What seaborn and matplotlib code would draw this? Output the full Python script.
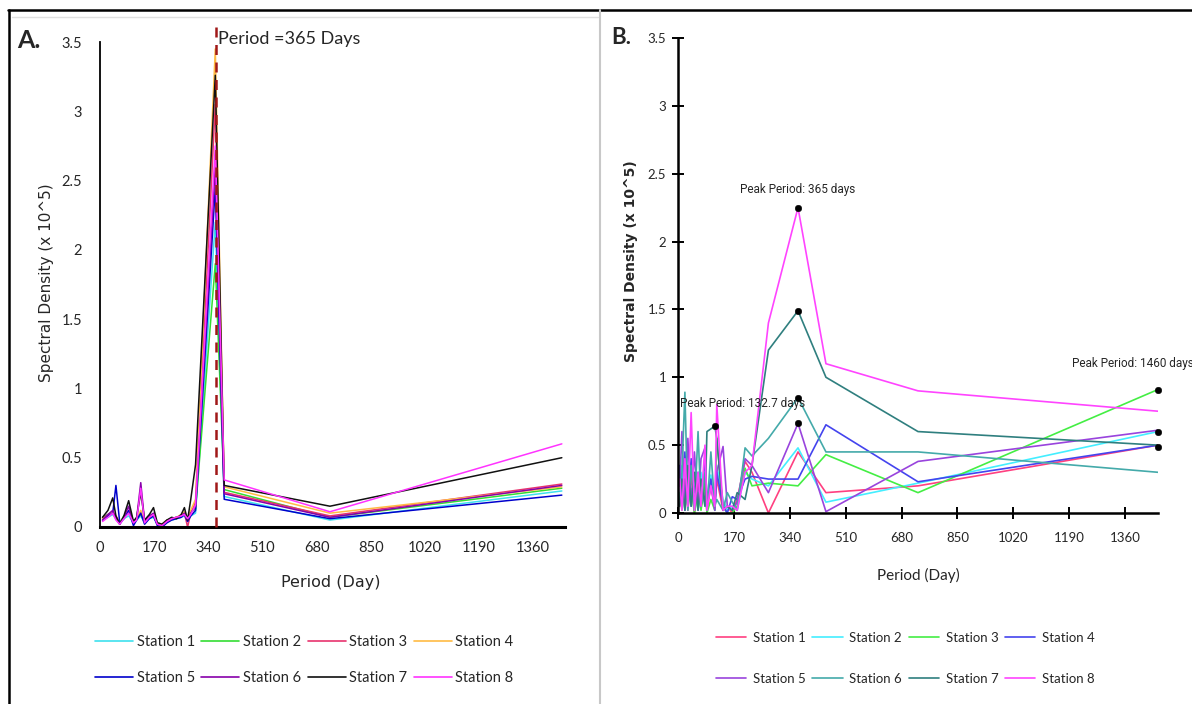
import matplotlib.pyplot as plt
import pandas as pd
import seaborn as sns
from matplotlib.lines import Line2D

stations = ['Station 1', 'Station 2', 'Station 3', 'Station 4',
            'Station 5', 'Station 6', 'Station 7', 'Station 8']

# ---- panel A data (period in days, spectral density x 10^5)
periods_a = [8, 25, 40, 50, 62, 75, 90, 105, 115, 128, 140, 155, 168, 180, 195,
             210, 225, 240, 255, 265, 275, 285, 300, 362, 390, 722, 1450]
a_st1 = [0.05, 0.07, 0.09, 0.06, 0.02, 0.06, 0.08, 0.03, 0.05, 0.08, 0.03, 0.06, 0.07, 0.02,
         0.01, 0.04, 0.05, 0.06, 0.07, 0.08, 0.04, 0.08, 0.10, 2.20, 0.22, 0.05, 0.26]
a_st2 = [0.07, 0.09, 0.11, 0.07, 0.03, 0.08, 0.10, 0.04, 0.06, 0.09, 0.05, 0.07, 0.08, 0.03,
         0.02, 0.05, 0.06, 0.07, 0.08, 0.10, 0.06, 0.11, 0.13, 1.90, 0.27, 0.07, 0.28]
a_st3 = [0.06, 0.09, 0.10, 0.08, 0.03, 0.07, 0.11, 0.03, 0.06, 0.10, 0.04, 0.08, 0.08, 0.02,
         0.02, 0.05, 0.06, 0.07, 0.08, 0.10, 0.00, 0.10, 0.18, 3.05, 0.25, 0.08, 0.31]
a_st4 = [0.06, 0.08, 0.11, 0.07, 0.03, 0.07, 0.12, 0.04, 0.06, 0.12, 0.04, 0.07, 0.09, 0.02,
         0.02, 0.04, 0.06, 0.07, 0.09, 0.11, 0.06, 0.12, 0.20, 3.45, 0.29, 0.10, 0.29]
a_st5 = [0.05, 0.08, 0.10, 0.30, 0.03, 0.06, 0.12, 0.01, 0.05, 0.10, 0.02, 0.06, 0.08, 0.01,
         0.00, 0.03, 0.05, 0.06, 0.07, 0.09, 0.04, 0.08, 0.12, 2.45, 0.20, 0.06, 0.23]
a_st6 = [0.05, 0.09, 0.12, 0.06, 0.02, 0.07, 0.15, 0.03, 0.06, 0.32, 0.04, 0.08, 0.10, 0.02,
         0.01, 0.04, 0.06, 0.07, 0.08, 0.10, 0.05, 0.10, 0.15, 2.60, 0.24, 0.07, 0.30]
a_st7 = [0.07, 0.12, 0.21, 0.08, 0.02, 0.08, 0.19, 0.04, 0.07, 0.25, 0.05, 0.09, 0.14, 0.03,
         0.02, 0.05, 0.07, 0.06, 0.09, 0.14, 0.05, 0.20, 0.45, 3.26, 0.30, 0.15, 0.50]
a_st8 = [0.04, 0.07, 0.10, 0.05, 0.02, 0.06, 0.10, 0.03, 0.05, 0.28, 0.03, 0.07, 0.09, 0.02,
         0.01, 0.04, 0.06, 0.07, 0.08, 0.09, 0.06, 0.09, 0.16, 2.75, 0.34, 0.11, 0.60]

# ---- panel B data
periods_b = [5, 12, 21, 30, 40, 50, 61, 70, 82, 88, 100, 112, 118, 137, 150, 165,
             180, 204, 225, 275, 365, 450, 730, 1460]
b_st1 = [0.30, 0.05, 0.25, 0.02, 0.28, 0.00, 0.22, 0.05, 0.15, 0.02, 0.20, 0.05, 0.25, 0.02,
         0.05, 0.00, 0.10, 0.38, 0.30, 0.00, 0.45, 0.15, 0.20, 0.50]
b_st2 = [0.20, 0.35, 0.02, 0.30, 0.05, 0.25, 0.02, 0.30, 0.05, 0.10, 0.28, 0.02, 0.35, 0.10,
         0.02, 0.05, 0.02, 0.30, 0.25, 0.20, 0.48, 0.08, 0.22, 0.60]
b_st3 = [0.15, 0.02, 0.20, 0.05, 0.18, 0.00, 0.15, 0.02, 0.22, 0.00, 0.10, 0.02, 0.55, 0.05,
         0.00, 0.00, 0.05, 0.33, 0.20, 0.22, 0.20, 0.43, 0.15, 0.91]
b_st4 = [0.35, 0.05, 0.45, 0.05, 0.40, 0.15, 0.30, 0.05, 0.42, 0.10, 0.25, 0.05, 0.30, 0.05,
         0.00, 0.12, 0.10, 0.25, 0.27, 0.25, 0.25, 0.65, 0.23, 0.50]
b_st5 = [0.20, 0.60, 0.02, 0.55, 0.05, 0.45, 0.02, 0.40, 0.48, 0.05, 0.20, 0.02, 0.30, 0.49,
         0.05, 0.02, 0.08, 0.40, 0.35, 0.15, 0.66, 0.01, 0.38, 0.61]
b_st6 = [0.10, 0.30, 0.89, 0.02, 0.35, 0.02, 0.60, 0.05, 0.30, 0.02, 0.45, 0.05, 0.10, 0.02,
         0.15, 0.08, 0.02, 0.48, 0.42, 0.55, 0.85, 0.45, 0.45, 0.30]
b_st7 = [0.05, 0.25, 0.02, 0.35, 0.05, 0.30, 0.02, 0.25, 0.05, 0.60, 0.62, 0.64, 0.55, 0.02,
         0.05, 0.02, 0.15, 0.10, 0.35, 1.20, 1.49, 1.00, 0.60, 0.50]
b_st8 = [0.25, 0.02, 0.40, 0.05, 0.74, 0.02, 0.30, 0.05, 0.50, 0.02, 0.20, 0.05, 0.80, 0.02,
         0.05, 0.05, 0.02, 0.30, 0.35, 1.40, 2.25, 1.10, 0.90, 0.75]

peak_x = [365, 365, 365, 365, 112, 1460, 1460, 1460]
peak_y = [2.25, 1.49, 0.85, 0.66, 0.64, 0.91, 0.60, 0.49]

x_ticks = [0, 170, 340, 510, 680, 850, 1020, 1190, 1360]
y_ticks = [0, 0.5, 1, 1.5, 2, 2.5, 3, 3.5]
y_labels = ['0', '0.5', '1', '1.5', '2', '2.5', '3', '3.5']

pal_a = dict(zip(stations, ['#3ee0ee', '#33dd33', '#e8336e', '#ffbb44',
                            '#0000cc', '#8800aa', '#111111', '#ff33ff']))
pal_b = dict(zip(stations, ['#ff4080', '#44eeff', '#44ee44', '#4444ee',
                            '#9944dd', '#44aaaa', '#2f7f7f', '#ff44ff']))


def long_table(periods, series):
    rows = []
    for name, vals in zip(stations, series):
        for p, v in zip(periods, vals):
            rows.append((p, v, name))
    return pd.DataFrame(rows, columns=['Period', 'Density', 'Station'])


df_a = long_table(periods_a, [a_st1, a_st2, a_st3, a_st4, a_st5, a_st6, a_st7, a_st8])
df_b = long_table(periods_b, [b_st1, b_st2, b_st3, b_st4, b_st5, b_st6, b_st7, b_st8])

sns.set_style('white')
plt.rcParams['font.family'] = ['Lato', 'DejaVu Sans']
narrow = ['Roboto', 'DejaVu Sans']

W, H = 1192, 704
fig = plt.figure(figsize=(W / 100, H / 100), dpi=100)

# frame lines of the composite picture
fig.add_artist(Line2D([8 / W, 1], [1 - 10 / H, 1 - 10 / H], color='black', lw=1.8))
fig.add_artist(Line2D([9 / W, 9 / W], [0, 1 - 10 / H], color='black', lw=1.8))
fig.add_artist(Line2D([600 / W, 600 / W], [0, 1 - 10 / H], color='#c8c8c8', lw=1.5))
fig.add_artist(Line2D([12 / W, 598 / W], [1 - 17 / H, 1 - 17 / H], color='#e0e0e0', lw=1))

# ---------------- panel A
ax_a = fig.add_axes([100 / W, 1 - 527 / H, 465 / W, 485 / H])
sns.lineplot(data=df_a, x='Period', y='Density', hue='Station', palette=pal_a,
             ax=ax_a, legend=False, errorbar=None, linewidth=1.1)
ax_a.plot([365, 365], [0, 3.63], color='#a01818', ls=(0, (4, 3)), lw=1.8, clip_on=False, zorder=5)
ax_a.text(370, 3.52, 'Period =365 Days', fontsize=13, ha='left', va='center')
ax_a.set_xlim(0, 1460)
ax_a.set_ylim(0, 3.5)
ax_a.set_xticks(x_ticks)
ax_a.set_yticks(y_ticks)
ax_a.set_yticklabels(y_labels)
ax_a.tick_params(axis='both', length=0, labelsize=10.5)
ax_a.tick_params(axis='y', pad=13)
ax_a.tick_params(axis='x', pad=10)
for s in ['top', 'right']:
    ax_a.spines[s].set_visible(False)
ax_a.spines['left'].set_linewidth(1.3)
ax_a.spines['bottom'].set_linewidth(2.2)
ax_a.spines['left'].set_color('black')
ax_a.spines['bottom'].set_color('black')
ax_a.set_xlabel('Period (Day)', fontsize=11.5, family='DejaVu Sans', va='center')
ax_a.xaxis.set_label_coords((331 - 100) / 465, (527 - 583) / 485)
ax_a.set_ylabel('Spectral Density (x 10^5)', fontsize=11, family='DejaVu Sans', va='center')
ax_a.yaxis.set_label_coords((47 - 100) / 465, (527 - 283) / 485)
fig.text(17 / W, 1 - 40 / H, 'A.', fontsize=18, fontweight='bold', ha='left', va='center')

handles_a = [Line2D([], [], color=pal_a[s], lw=1.2) for s in stations]
order = [0, 4, 1, 5, 2, 6, 3, 7]
fig.legend([handles_a[i] for i in order], [stations[i] for i in order], ncol=4,
           loc='upper left', bbox_to_anchor=(95 / W, 1 - 635 / H), frameon=False,
           fontsize=10.5, handlelength=2.6, handletextpad=0.25, columnspacing=0.45,
           labelspacing=1.5, borderpad=0, borderaxespad=0)

# ---------------- panel B
ax_b = fig.add_axes([678 / W, 1 - 513 / H, 480 / W, 475 / H])
sns.lineplot(data=df_b, x='Period', y='Density', hue='Station', palette=pal_b,
             ax=ax_b, legend=False, errorbar=None, linewidth=1.2)
sns.scatterplot(x=peak_x, y=peak_y, color='black', s=22, ax=ax_b, zorder=6,
                edgecolor='black', clip_on=False)
ax_b.text(365, 2.38, 'Peak Period: 365 days', fontsize=8.5, family=narrow,
          ha='center', va='center')
ax_b.text(5, 0.81, 'Peak Period: 132.7 days', fontsize=8.5, family=narrow,
          ha='left', va='center')
ax_b.text(1197, 1.10, 'Peak Period: 1460 days', fontsize=8.5, family=narrow,
          clip_on=False, ha='left', va='center')
ax_b.set_xlim(0, 1460)
ax_b.set_ylim(0, 3.5)
ax_b.set_xticks(x_ticks)
ax_b.set_yticks(y_ticks)
ax_b.set_yticklabels(y_labels)
ax_b.tick_params(axis='both', direction='inout', length=9, width=1.4, labelsize=9.5,
                 color='black', bottom=True, left=True)
ax_b.tick_params(axis='y', pad=4)
ax_b.tick_params(axis='x', pad=9)
for s in ['top', 'right']:
    ax_b.spines[s].set_visible(False)
for s in ['left', 'bottom']:
    ax_b.spines[s].set_linewidth(1.8)
    ax_b.spines[s].set_color('black')
ax_b.set_xlabel('Period (Day)', fontsize=11, va='center')
ax_b.xaxis.set_label_coords((918 - 678) / 480, (513 - 575) / 475)
ax_b.set_ylabel('Spectral Density (x 10^5)', fontsize=10, fontweight='bold',
                family='DejaVu Sans', va='center')
ax_b.yaxis.set_label_coords((631 - 678) / 480, (513 - 261) / 475)
fig.text(611 / W, 1 - 38 / H, 'B.', fontsize=16, fontweight='bold', ha='left', va='center')

handles_b = [Line2D([], [], color=pal_b[s], lw=1.2) for s in stations]
fig.legend([handles_b[i] for i in order], [stations[i] for i in order], ncol=4,
           loc='upper left', bbox_to_anchor=(716 / W, 1 - 632 / H), frameon=False,
           fontsize=9.5, handlelength=2.3, handletextpad=0.5, columnspacing=0.5,
           labelspacing=2.2, borderpad=0, borderaxespad=0)

fig.savefig('out.png', dpi=100)
